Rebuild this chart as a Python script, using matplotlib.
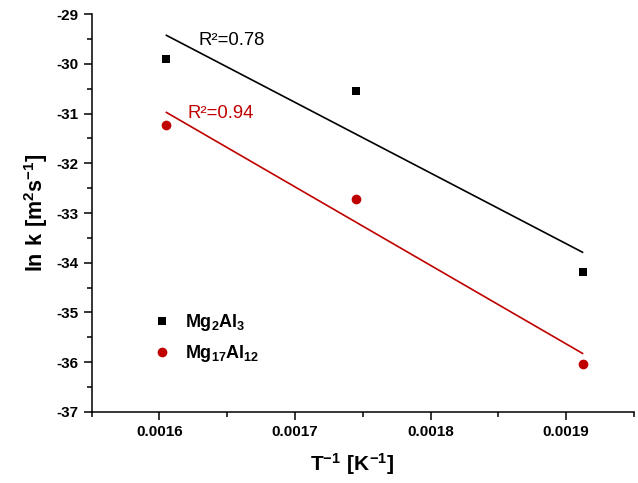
import matplotlib
matplotlib.use('Agg')
import matplotlib.pyplot as plt
from matplotlib.ticker import MultipleLocator, FormatStrFormatter
import numpy as np

plt.rcParams['font.family'] = ['Liberation Sans', 'DejaVu Sans']
plt.rcParams['axes.unicode_minus'] = False
plt.rcParams['mathtext.fontset'] = 'custom'
plt.rcParams['mathtext.rm'] = 'Liberation Sans'
plt.rcParams['mathtext.bf'] = 'Liberation Sans:bold'

# Inverse temperature (1/K) and ln k for the two phases
inv_T = [1 / 623, 1 / 573, 1 / 523]
lnk_mg2al3 = [-29.90, -30.54, -34.19]
lnk_mg17al12 = [-31.23, -32.72, -36.04]
r2_labels = ['R²=0.78', 'R²=0.94']

BLACK = '#000000'
RED = '#C00000'

fig = plt.figure(figsize=(6.38, 4.83), dpi=100)
ax = fig.add_axes([0.1437, 0.1476, 0.85, 0.8228])

x = np.array(inv_T)
x_fit = np.array([x.min(), x.max()])

for y, col, mk, ms, lab in [
    (lnk_mg2al3, BLACK, 's', 6.3, r'$\mathbf{Mg_2Al_3}$'),
    (lnk_mg17al12, RED, 'o', 7.0, r'$\mathbf{Mg_{17}Al_{12}}$'),
]:
    ax.plot(x, y, linestyle='none', marker=mk, markersize=ms,
            color=col, markeredgewidth=0, label=lab)
    # linear fit across the measured range
    k, b = np.polyfit(x, y, 1)
    ax.plot(x_fit, k * x_fit + b, color=col, linewidth=1.2)

ax.text(0.001629, -29.52, r2_labels[0], color=BLACK, fontsize=13.3, va='center')
ax.text(0.001621, -31.0, r2_labels[1], color=RED, fontsize=13.3, va='center')

ax.set_xlim(0.00155, 0.00195)
ax.set_ylim(-37, -29)
ax.xaxis.set_major_locator(MultipleLocator(0.0001))
ax.xaxis.set_minor_locator(MultipleLocator(0.00005))
ax.xaxis.set_major_formatter(FormatStrFormatter('%.4f'))
ax.yaxis.set_major_locator(MultipleLocator(1))
ax.yaxis.set_minor_locator(MultipleLocator(0.5))
ax.yaxis.set_major_formatter(FormatStrFormatter('%d'))

for s in ['top', 'right']:
    ax.spines[s].set_visible(False)
for s in ['left', 'bottom']:
    ax.spines[s].set_linewidth(1.1)
ax.tick_params(which='major', direction='out', length=5.8, width=1.1,
               labelsize=11, pad=4)
ax.tick_params(which='minor', direction='out', length=3.4, width=1.1)
for t in ax.get_xticklabels() + ax.get_yticklabels():
    t.set_fontweight('bold')

ax.set_xlabel(r'$\mathbf{T^{-1}\ [K^{-1}]}$', fontsize=15, labelpad=8)
ax.set_ylabel(r'$\mathbf{ln\ k\ [m^2s^{-1}]}$', fontsize=15.5, labelpad=4)
ax.xaxis.set_label_coords(0.48, -0.1)

ax.legend(loc='upper left', bbox_to_anchor=(0.1, 0.268), frameon=False,
          fontsize=13, handletextpad=0.75, labelspacing=0.55, borderaxespad=0,
          handlelength=1.0)

fig.savefig('out.png', dpi=100)
